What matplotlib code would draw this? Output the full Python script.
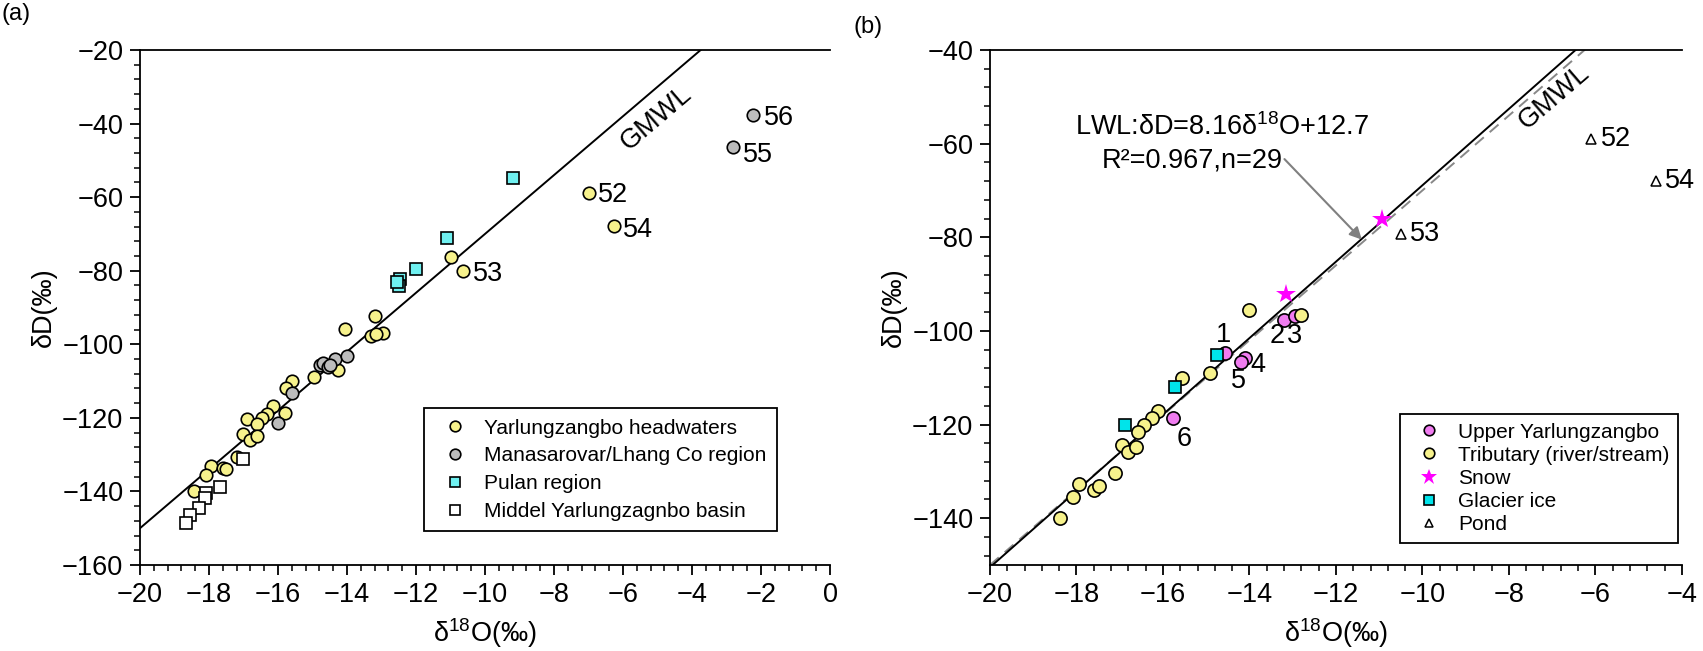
import matplotlib
matplotlib.use('Agg')
import matplotlib.pyplot as plt
import numpy as np
from matplotlib.ticker import MultipleLocator, AutoMinorLocator

plt.rcParams['font.family'] = ['Liberation Sans', 'DejaVu Sans']
plt.rcParams['mathtext.fontset'] = 'custom'
plt.rcParams['mathtext.rm'] = 'Liberation Sans'

# ---- panel (a) data: (d18O, dD) ----
a_yarlung_x = [-11.0, -10.65, -7.0, -6.25, -13.2, -14.05, -13.3, -12.95, -13.15,
               -14.25, -14.95, -15.6, -15.77, -16.15, -16.33, -16.45, -15.8,
               -16.9, -16.6, -17.0, -16.8, -16.62, -17.2, -17.95, -18.1, -17.6,
               -17.5, -18.43]
a_yarlung_y = [-76.4, -80.0, -58.9, -67.8, -92.4, -95.9, -97.8, -96.8, -97.2,
               -106.9, -109.0, -109.9, -112.0, -116.9, -119.0, -120.0, -118.8,
               -120.3, -121.7, -124.5, -126.0, -125.0, -130.6, -133.1, -135.4,
               -133.5, -133.8, -140.0]
a_manasa_x = [-2.22, -2.82, -14.78, -14.7, -14.55, -14.35, -14.0, -14.5, -15.6, -16.0]
a_manasa_y = [-37.7, -46.3, -105.6, -105.0, -106.3, -104.0, -103.3, -105.5, -113.2, -121.5]
a_pulan_x = [-9.2, -11.1, -12.0, -12.45, -12.5, -12.55]
a_pulan_y = [-54.9, -71.2, -79.5, -82.3, -84.1, -83.2]
a_middle_x = [-17.0, -17.68, -18.1, -18.13, -18.3, -18.55, -18.67]
a_middle_y = [-131.1, -138.7, -140.4, -141.7, -144.6, -146.4, -148.5]
a_labels = ['56', '55', '52', '54', '53']
a_label_x = [-1.92, -2.52, -6.72, -6.0, -10.35]
a_label_y = [-38.5, -48.5, -59.4, -68.9, -80.9]

# ---- panel (b) data ----
b_upper_x = [-14.57, -13.2, -12.95, -14.11, -14.2, -15.76]
b_upper_y = [-104.8, -97.6, -96.8, -105.7, -106.7, -118.7]
b_upper_names = ['1', '2', '3', '4', '5', '6']
b_name_x = [-14.6, -13.35, -12.95, -13.8, -14.25, -15.5]
b_name_y = [-100.8, -101.0, -101.0, -107.2, -110.7, -123.0]
b_trib_x = [-14.01, -12.8, -14.92, -15.57, -16.12, -16.25, -16.44, -16.58, -16.94,
            -16.8, -16.62, -17.11, -17.95, -18.07, -17.59, -17.49, -18.38]
b_trib_y = [-95.6, -96.6, -108.9, -110.0, -117.1, -118.7, -120.2, -121.6, -124.4,
            -125.9, -124.8, -130.4, -132.8, -135.4, -134.0, -133.1, -139.9]
b_snow_x = [-10.94, -13.16]
b_snow_y = [-76.1, -92.2]
b_glacier_x = [-14.76, -15.72, -16.88]
b_glacier_y = [-105.2, -111.9, -120.2]
b_pond_x = [-10.5, -6.1, -4.6]
b_pond_y = [-79.4, -59.0, -68.0]
b_pond_names = ['53', '52', '54']

fs = 19.5
fig = plt.figure(figsize=(17.03, 6.51), dpi=100)
ax1 = fig.add_axes([0.0822, 0.1321, 0.4052, 0.7911])
ax2 = fig.add_axes([0.5813, 0.1321, 0.4063, 0.7911])


def style(ax):
    for s in ax.spines.values():
        s.set_linewidth(1.3)
    ax.spines['right'].set_visible(False)
    ax.xaxis.set_major_locator(MultipleLocator(2))
    ax.xaxis.set_minor_locator(AutoMinorLocator(5))
    ax.yaxis.set_major_locator(MultipleLocator(20))
    ax.yaxis.set_minor_locator(AutoMinorLocator(5))
    ax.tick_params(which='major', direction='out', length=7, width=1.3,
                   labelsize=fs, pad=5)
    ax.tick_params(which='minor', direction='out', length=4, width=1.1)
    ax.set_xlabel(r'δ$^{\mathregular{18}}$O(‰)', fontsize=fs, labelpad=6)
    ax.set_ylabel('δD(‰)', fontsize=fs, labelpad=4)


# ---- (a) ----
xl = np.array([-20, 0])
ax1.plot(xl, 8 * xl + 10, color='black', lw=1.4, zorder=1)
mk = dict(linestyle='none', markeredgecolor='black', markeredgewidth=1.2, zorder=3)
ax1.plot(a_yarlung_x, a_yarlung_y, 'o', ms=9, markerfacecolor='#f7f28c',
         label='Yarlungzangbo headwaters', **mk)
ax1.plot(a_manasa_x, a_manasa_y, 'o', ms=9, markerfacecolor='#bcbcbc',
         label='Manasarovar/Lhang Co region', **mk)
ax1.plot(a_pulan_x, a_pulan_y, 's', ms=8, markerfacecolor='#6ff0f0',
         label='Pulan region', **mk)
ax1.plot(a_middle_x, a_middle_y, 's', ms=8, markerfacecolor='white',
         label='Middel Yarlungzagnbo basin', **mk)
for t, x, y in zip(a_labels, a_label_x, a_label_y):
    ax1.text(x, y, t, fontsize=fs, ha='left', va='center')
ax1.text(-5.03, -38.6, 'GMWL', fontsize=fs, ha='center', va='center',
         rotation=40.5, rotation_mode='anchor')
ax1.set_xlim(-20, 0)
ax1.set_ylim(-160, -20)
style(ax1)
ax1.legend(loc='lower right', bbox_to_anchor=(0.938, 0.045), fontsize=15,
           frameon=True, fancybox=False, edgecolor='black', framealpha=1,
           borderpad=0.5, labelspacing=0.42, handletextpad=0.4, markerscale=0.85
           ).get_frame().set_linewidth(1.3)

# ---- (b) ----
xl = np.array([-20, -4])
ax2.plot(xl, 8 * xl + 10, color='#888888', lw=1.4, ls=(0, (6, 4)), zorder=1)
ax2.plot(xl, 8.16 * xl + 12.7, color='black', lw=1.4, zorder=2)
ax2.plot(b_upper_x, b_upper_y, 'o', ms=9.5, markerfacecolor='#f07cf0',
         label='Upper Yarlungzangbo', **mk)
ax2.plot(b_trib_x, b_trib_y, 'o', ms=9.5, markerfacecolor='#f7f28c',
         label='Tributary (river/stream)', **mk)
ax2.plot(b_snow_x, b_snow_y, '*', ms=15, color='#ff00ff', linestyle='none',
         markeredgewidth=0, label='Snow', zorder=4)
ax2.plot(b_glacier_x, b_glacier_y, 's', ms=9, markerfacecolor='#00e4ea',
         label='Glacier ice', **mk)
ax2.plot(b_pond_x, b_pond_y, '^', ms=7, markerfacecolor='white',
         label='Pond', linestyle='none', markeredgecolor='black',
         markeredgewidth=1.1, zorder=3)
for t, x, y in zip(b_upper_names, b_name_x, b_name_y):
    ax2.text(x, y, t, fontsize=fs, ha='center', va='center')
for t, x, y in zip(b_pond_names, b_pond_x, b_pond_y):
    ax2.text(x + 0.22, y, t, fontsize=fs, ha='left', va='center', clip_on=False)
ax2.text(-6.95, -50.0, 'GMWL', fontsize=fs, ha='center', va='center',
         rotation=40.7, rotation_mode='anchor')
ax2.text(-11.24, -58.1, 'LWL:δD=8.16δ$^{\\mathregular{18}}$O+12.7', fontsize=fs,
         ha='right', va='baseline')
ax2.text(-13.23, -65.0, 'R²=0.967,n=29', fontsize=fs, ha='right', va='baseline')
ax2.annotate('', xy=(-11.4, -80.5), xytext=(-13.19, -63.3),
             arrowprops=dict(arrowstyle='-|>', color='#808080', lw=1.5,
                             mutation_scale=18, shrinkA=0, shrinkB=0))
ax2.set_xlim(-20, -4)
ax2.set_ylim(-150, -40)
style(ax2)
ax2.legend(loc='upper left', bbox_to_anchor=(0.577, 0.313), fontsize=15,
           frameon=True, fancybox=False, edgecolor='black', framealpha=1,
           borderpad=0.4, labelspacing=0.2, handletextpad=0.4, markerscale=0.8
           ).get_frame().set_linewidth(1.3)

fig.text(0.001, 0.995, '(a)', fontsize=17, ha='left', va='top')
fig.text(0.501, 0.975, '(b)', fontsize=17, ha='left', va='top')

fig.savefig('out.png', dpi=100)
